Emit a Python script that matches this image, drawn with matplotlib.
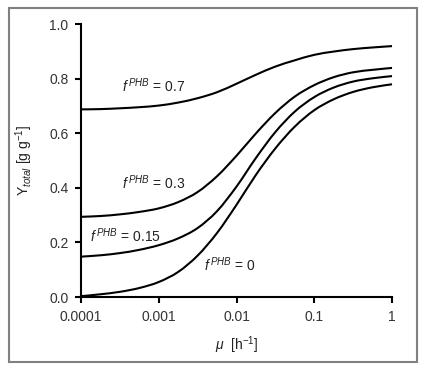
import numpy as np
import matplotlib
matplotlib.use("Agg")
import matplotlib.pyplot as plt
from matplotlib.patches import Rectangle, PathPatch
from matplotlib.path import Path

plt.rcParams['font.family'] = ['Liberation Sans', 'DejaVu Sans']
plt.rcParams['mathtext.fontset'] = 'custom'
plt.rcParams['mathtext.rm'] = 'Liberation Sans'
plt.rcParams['mathtext.it'] = 'Liberation Sans:italic'
plt.rcParams['mathtext.bf'] = 'Liberation Sans:bold'

# growth rate mu [1/h], quarter-decade steps from 1e-4 to 1
mu = [1e-4, 1.778e-4, 3.162e-4, 5.623e-4, 1e-3, 1.778e-3, 3.162e-3, 5.623e-3,
      1e-2, 1.778e-2, 3.162e-2, 5.623e-2, 1e-1, 1.778e-1, 3.162e-1, 5.623e-1, 1.0]

y_f07 = [0.688, 0.689, 0.692, 0.696, 0.702, 0.713, 0.729, 0.751, 0.782,
         0.815, 0.845, 0.868, 0.888, 0.900, 0.909, 0.915, 0.920]
y_f03 = [0.294, 0.297, 0.303, 0.312, 0.325, 0.348, 0.385, 0.443, 0.518,
         0.600, 0.675, 0.735, 0.777, 0.806, 0.824, 0.833, 0.840]
y_f015 = [0.148, 0.153, 0.161, 0.173, 0.190, 0.215, 0.253, 0.315, 0.405,
          0.510, 0.605, 0.680, 0.733, 0.768, 0.790, 0.802, 0.810]
y_f0 = [0.003, 0.010, 0.019, 0.033, 0.055, 0.092, 0.152, 0.235, 0.338,
        0.448, 0.545, 0.625, 0.685, 0.725, 0.752, 0.769, 0.780]

series = [y_f07, y_f03, y_f015, y_f0]
labels = ["0.7", "0.3", "0.15", "0"]
label_pos = [(8.5e-4, 0.774), (8.5e-4, 0.418), (3.7e-4, 0.224), (8.3e-3, 0.117)]

xticks = [1e-4, 1e-3, 1e-2, 1e-1, 1]
xticklabels = ["0.0001", "0.001", "0.01", "0.1", "1"]
yticks = [0.0, 0.2, 0.4, 0.6, 0.8, 1.0]
yticklabels = ["0.0", "0.2", "0.4", "0.6", "0.8", "1.0"]


def smooth_path(xs, ys):
    """Smoothed connector (Catmull-Rom as Bezier) through the data points, in log-x space."""
    lx = np.log10(np.asarray(xs, float))
    y = np.asarray(ys, float)
    n = len(lx)
    verts = [(xs[0], y[0])]
    codes = [Path.MOVETO]
    for i in range(n - 1):
        i0 = max(i - 1, 0)
        i3 = min(i + 2, n - 1)
        c1x = lx[i] + (lx[i + 1] - lx[i0]) / 6.0
        c1y = y[i] + (y[i + 1] - y[i0]) / 6.0
        c2x = lx[i + 1] - (lx[i3] - lx[i]) / 6.0
        c2y = y[i + 1] - (y[i3] - y[i]) / 6.0
        verts += [(10 ** c1x, c1y), (10 ** c2x, c2y), (xs[i + 1], y[i + 1])]
        codes += [Path.CURVE4] * 3
    return Path(verts, codes)


fig = plt.figure(figsize=(4.25, 3.72), dpi=100)
ax = fig.add_axes([0.1906, 0.2016, 0.7318, 0.7331])

ax.set_xscale('log')
ax.set_xlim(1e-4, 1)
ax.set_ylim(0, 1.0)

for ys in series:
    patch = PathPatch(smooth_path(mu, ys), facecolor='none', edgecolor='black',
                      lw=1.5, transform=ax.transData, clip_on=False)
    ax.add_patch(patch)

for lab, (lx, ly) in zip(labels, label_pos):
    ax.text(lx, ly, r"$\mathit{f}^{\,\mathit{PHB}}$" + " = " + lab, fontsize=10,
            ha='center', va='center', color='#222222')

ax.set_xticks(xticks)
ax.set_xticklabels(xticklabels)
ax.minorticks_off()
ax.set_yticks(yticks)
ax.set_yticklabels(yticklabels)

for s in ['top', 'right']:
    ax.spines[s].set_visible(False)
for s in ['left', 'bottom']:
    ax.spines[s].set_linewidth(1.5)

ax.tick_params(direction='out', length=4, width=1.5, labelsize=10,
               colors='black', labelcolor='#333333', pad=5)

ax.set_xlabel(r"$\mathit{\mu}$  [h$^{-1}$]", fontsize=10, color='#222222', labelpad=8)
ax.set_ylabel(r"Y$_{\mathit{total}}$ [g g$^{-1}$]", fontsize=10, color='#222222', labelpad=10)

fig.patches.append(Rectangle((9 / 425, 1 - 362 / 372), 408 / 425, 354 / 372,
                             transform=fig.transFigure, fill=False,
                             edgecolor='#808080', lw=1.5))

fig.savefig("out.png", dpi=100)
